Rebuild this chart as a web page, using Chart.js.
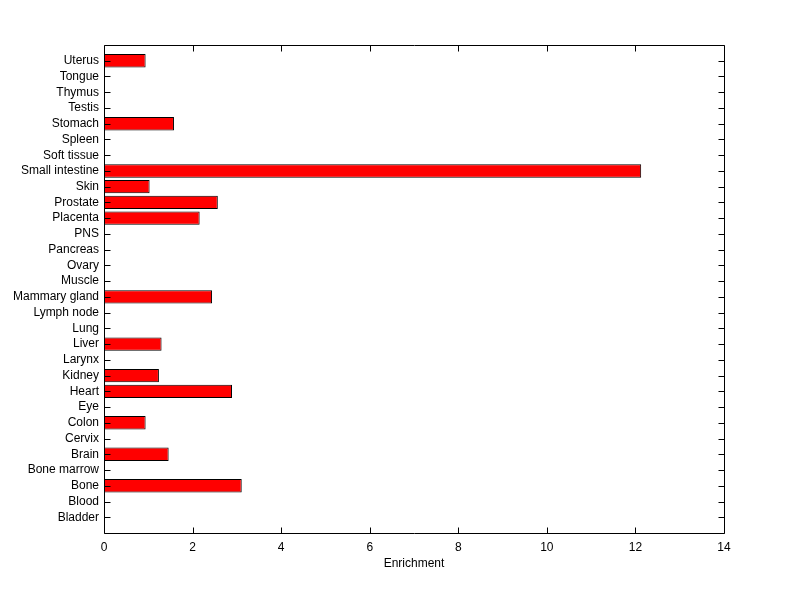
<!DOCTYPE html>
<html>
<head>
<meta charset="utf-8">
<script src="https://cdn.jsdelivr.net/npm/chart.js@4/dist/chart.umd.min.js"></script>
<style>
  html, body { margin: 0; padding: 0; background: #fff; }
</style>
</head>
<body>
<canvas id="myChart" width="800" height="599"></canvas>
<script>
// DATA PART (top to bottom as shown)

var tissues = ['Uterus', 'Tongue', 'Thymus', 'Testis', 'Stomach', 'Spleen', 'Soft tissue',
    'Small intestine', 'Skin', 'Prostate', 'Placenta', 'PNS', 'Pancreas', 'Ovary', 'Muscle',
    'Mammary gland', 'Lymph node', 'Lung', 'Liver', 'Larynx', 'Kidney', 'Heart', 'Eye',
    'Colon', 'Cervix', 'Brain', 'Bone marrow', 'Bone', 'Blood', 'Bladder'];

var enrichment = [0.94, 0, 0, 0, 1.58, 0, 0,
    12.13, 1.03, 2.57, 2.16, 0, 0, 0, 0,
    2.44, 0, 0, 1.30, 0, 1.24, 2.89, 0,
    0.94, 0, 1.46, 0, 3.11, 0, 0];

var xTicks = [0, 2, 4, 6, 8, 10, 12, 14];

// empty slot on each end, like the axis limits [0 31]
var labels = [''].concat(tissues).concat(['']);
var values = [null].concat(enrichment).concat([null]);

var fontFamily = '"Liberation Sans", Arial, sans-serif';

// PLUGIN PART : box + inward ticks

var boxTicks = {
    id: 'boxTicks',
    afterDraw: (chart) => {
        var ctx = chart.ctx;
        var a = chart.chartArea;
        var xs = chart.scales.x;
        var ys = chart.scales.y;
        var len = 6;

        ctx.save();
        ctx.strokeStyle = '#000';
        ctx.lineWidth = 1;
        ctx.beginPath();
        var l = Math.round(a.left) + 0.5, r = Math.round(a.right) + 0.5;
        var t = Math.round(a.top) + 0.5, b = Math.round(a.bottom) + 0.5;
        ctx.rect(l, t, r - l, b - t);

        xTicks.forEach(v => {
            var px = Math.round(xs.getPixelForValue(v)) + 0.5;
            ctx.moveTo(px, b); ctx.lineTo(px, b - len);
            ctx.moveTo(px, t); ctx.lineTo(px, t + len);
        });

        labels.forEach((lab, i) => {
            if (lab === '') return;
            var py = Math.round(ys.getPixelForValue(i)) + 0.5;
            ctx.moveTo(l, py); ctx.lineTo(l + len, py);
            ctx.moveTo(r, py); ctx.lineTo(r - len, py);
        });
        ctx.stroke();
        ctx.restore();
    }
};

// CHART PART

var ctx = document.getElementById('myChart').getContext('2d');
var myChart = new Chart(ctx, {
    type: 'bar',
    data: {
        labels: labels,
        datasets: [{
            label: 'Enrichment',
            data: values,
            backgroundColor: '#ff0000',
            borderColor: '#000000',
            borderWidth: 1,
            borderSkipped: false,
            barPercentage: 0.85,
            categoryPercentage: 1
        }]
    },
    options: {
        indexAxis: 'y',
        responsive: false,
        animation: false,
        layout: {
            padding: { left: 0, right: 76, top: 45, bottom: 28 }
        },
        plugins: {
            legend: { display: false },
            tooltip: { enabled: false }
        },
        scales: {
            x: {
                type: 'linear',
                min: 0,
                max: 14,
                afterBuildTicks: (scale) => {
                    scale.ticks = xTicks.map(v => ({ value: v }));
                },
                grid: { display: false, drawTicks: false },
                border: { display: false },
                ticks: {
                    color: '#000',
                    padding: 7,
                    font: { family: fontFamily, size: 12 },
                    maxRotation: 0
                },
                title: {
                    display: true,
                    text: 'Enrichment',
                    color: '#000',
                    padding: { top: 2, bottom: 0 },
                    font: { family: fontFamily, size: 12 }
                },
                afterFit: (scale) => { scale.height = 38; }
            },
            y: {
                type: 'category',
                offset: false,
                grid: { display: false, drawTicks: false },
                border: { display: false },
                ticks: {
                    color: '#000',
                    autoSkip: false,
                    padding: 5,
                    font: { family: fontFamily, size: 12 }
                },
                afterFit: (scale) => { scale.width = 104; }
            }
        }
    },
    plugins: [boxTicks]
});
</script>
</body>
</html>
